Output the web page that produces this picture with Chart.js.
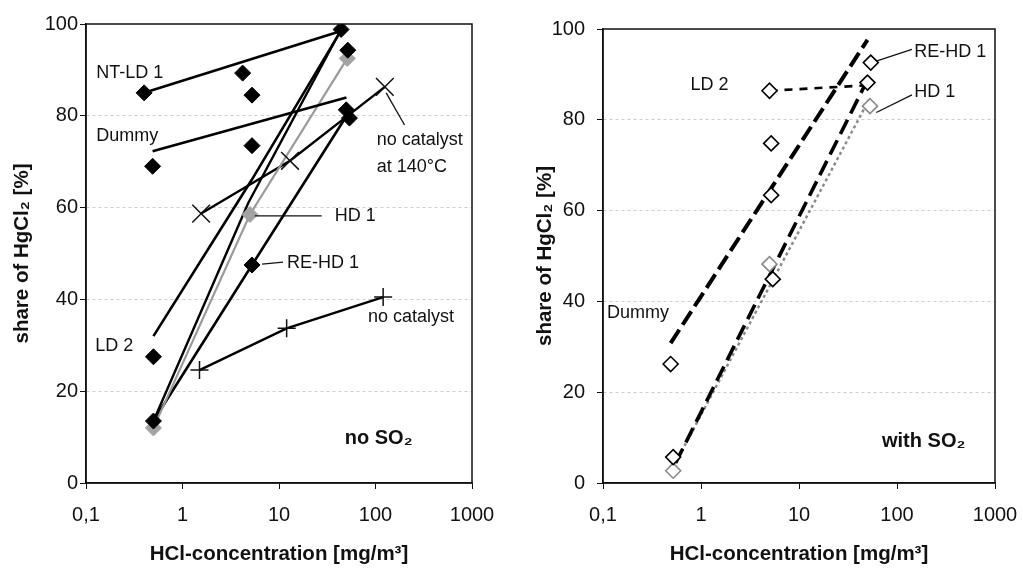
<!DOCTYPE html>
<html>
<head>
<meta charset="utf-8">
<title>share of HgCl2</title>
<script src="https://cdn.jsdelivr.net/npm/chart.js@4.4.0/dist/chart.umd.min.js"></script>
<style>
  html, body { margin: 0; padding: 0; background: #fff; overflow: hidden; }
  #wrap { position: relative; width: 1023px; height: 569px; }
  .panel { position: absolute; top: 0; height: 569px; }
  #left { left: 0; width: 500px; }
  #right { left: 500px; width: 523px; }
</style>
</head>
<body>
<div id="wrap">
  <div class="panel" id="left"><canvas id="chartLeft"></canvas></div>
  <div class="panel" id="right"><canvas id="chartRight"></canvas></div>
</div>
<script>
  const xTicks = [0.1, 1, 10, 100, 1000];
  const yTicks = [0, 20, 40, 60, 80, 100];

  // left panel (no SO2) - measured points [HCl mg/m3, share %]
  const ntLd1Pts = [[0.4, 85], [4.2, 89.3], [44, 98.8]];
  const dummyPts = [[0.49, 69], [5.25, 73.5], [5.25, 84.5]];
  const ld2Pts = [[0.5, 27.5], [51.6, 94.3]];
  const hd1Pts = [[0.5, 12], [5, 58.5], [51, 92.5]];
  const reHd1Pts = [[0.5, 13.5], [5.25, 47.5], [49.8, 81.3], [53.7, 79.5]];
  const noCat140Pts = [[1.56, 58.7], [13, 70.2], [125, 86.3]];
  const noCatPts = [[1.5, 24.6], [12, 33.7], [120, 40.5]];

  // left panel - trend lines
  const ntLd1Fit = [[0.4, 85], [44, 98.5]];
  const dummyFit = [[0.49, 72.3], [50, 84]];
  const ld2Fit = [[0.5, 32], [5.2, 66], [44, 98.6]];
  const hd1Fit = [[0.5, 12], [5, 58.5], [51, 92.5]];
  const hd1BlackFit = [[0.5, 13.5], [4.8, 61], [44, 98.8]];
  const reHd1Fit = [[0.5, 13.5], [5.25, 47.5], [52, 80.5]];

  // right panel (with SO2) - measured points
  const dummySo2Pts = [[0.49, 26.2], [5.2, 63.4], [5.2, 74.8]];
  const ld2So2Pts = [[5, 86.4], [50, 88.2]];
  const reHd1So2Pts = [[0.52, 5.7], [5.4, 44.9], [54, 92.6]];
  const hd1So2Pts = [[0.52, 2.7], [5, 48.2], [53, 83]];

  // right panel - trend lines
  const dummySo2Fit = [[0.49, 30.8], [50, 97.6]];
  const ld2So2Fit = [[5, 86.4], [50, 87.6]];
  const reHd1So2Fit = [[0.55, 4.4], [50, 88.8]];
  const hd1So2Fit = [[0.52, 3.5], [52, 84.5]];

  const FONT = '"Liberation Sans", Arial, Helvetica, sans-serif';
  const INK = '#111';
  Chart.defaults.font.family = FONT;
  Chart.defaults.color = INK;

  const toXY = arr => arr.map(([x, y]) => ({ x, y }));

  function marks(data, style, fill, stroke, radius, width) {
    return {
      data: toXY(data), showLine: false, order: 0,
      pointStyle: style, pointRadius: radius, pointHoverRadius: radius,
      backgroundColor: fill, borderColor: stroke, pointBorderWidth: width
    };
  }
  function fit(data, color, width, dash) {
    return {
      data: toXY(data), showLine: true, order: 1, pointRadius: 0,
      borderColor: color, borderWidth: width, borderDash: dash || [],
      fill: false, tension: 0
    };
  }

  // text labels and leader lines, placed in data coordinates
  const notes = {
    id: 'notes',
    afterDatasetsDraw(chart, args, opts) {
      const { ctx } = chart;
      const x = chart.scales.x, y = chart.scales.y;
      ctx.save();
      ctx.strokeStyle = INK;
      ctx.lineWidth = 1.3;
      (opts.leaders || []).forEach(l => {
        ctx.beginPath();
        ctx.moveTo(x.getPixelForValue(l[0]), y.getPixelForValue(l[1]));
        ctx.lineTo(x.getPixelForValue(l[2]), y.getPixelForValue(l[3]));
        ctx.stroke();
      });
      ctx.textBaseline = 'middle';
      ctx.fillStyle = INK;
      (opts.texts || []).forEach(t => {
        ctx.font = (t[3] ? 'bold 20px ' : '18px ') + FONT;
        ctx.fillText(t[0], x.getPixelForValue(t[1]), y.getPixelForValue(t[2]));
      });
      const a = chart.chartArea;
      ctx.lineWidth = 1.5;
      ctx.strokeRect(a.left, a.top, a.right - a.left, a.bottom - a.top);
      ctx.restore();
    }
  };

  function makeChart(id, datasets, cfg) {
    return new Chart(document.getElementById(id), {
      type: 'scatter',
      data: { datasets: datasets },
      options: {
        responsive: true,
        maintainAspectRatio: false,
        animation: false,
        layout: { padding: { left: 0, right: 28, top: cfg.top, bottom: 0 } },
        plugins: {
          legend: { display: false },
          tooltip: { enabled: false },
          notes: { texts: cfg.texts, leaders: cfg.leaders }
        },
        scales: {
          x: {
            type: 'logarithmic',
            min: 0.1, max: 1000,
            afterBuildTicks: s => { s.ticks = xTicks.map(v => ({ value: v })); },
            afterFit: s => { s.height = 86; s.paddingLeft = 0; s.paddingRight = 0; },
            ticks: {
              callback: v => v === 0.1 ? '0,1' : String(v),
              font: { size: 20 }, color: INK, padding: 14,
              autoSkip: false, maxRotation: 0
            },
            grid: { drawOnChartArea: false, drawTicks: true, tickLength: 6, tickColor: INK },
            border: { color: INK, width: 1.5 },
            title: {
              display: true, text: 'HCl-concentration [mg/m³]', color: INK,
              font: { size: 20.5, weight: 'bold', lineHeight: 1.2 },
              padding: { top: 0, bottom: 2 }
            }
          },
          y: {
            min: 0, max: 100,
            afterBuildTicks: s => { s.ticks = yTicks.map(v => ({ value: v })); },
            afterFit: s => { s.width = cfg.yWidth; },
            ticks: { font: { size: 20 }, color: INK, padding: cfg.yTickPad },
            grid: {
              color: c => (c.tick.value === 0 || c.tick.value === 100) ? 'rgba(0,0,0,0)' : '#cdcdcd',
              lineWidth: 1, tickLength: 6, tickColor: INK
            },
            border: { color: INK, width: 1.5, dash: [3, 3] },
            title: {
              display: true, text: 'share of HgCl₂ [%]', color: INK,
              font: { size: 20.5, weight: 'bold', lineHeight: 1.2 },
              padding: { top: cfg.yTitlePad, bottom: 0 }
            }
          }
        }
      },
      plugins: [notes]
    });
  }

  const black = '#000';
  const grey = '#a3a3a3';

  makeChart('chartLeft', [
    marks(ntLd1Pts, 'rectRot', black, black, 8, 1),
    marks(dummyPts, 'rectRot', black, black, 8, 1),
    marks(ld2Pts, 'rectRot', black, black, 8, 1),
    marks(reHd1Pts, 'rectRot', black, black, 8, 1),
    marks(hd1Pts, 'rectRot', grey, grey, 8, 1),
    marks(noCat140Pts, 'crossRot', black, INK, 12.5, 1.5),
    marks(noCatPts, 'cross', black, INK, 9, 1.5),
    fit(ntLd1Fit, black, 2.6),
    fit(dummyFit, black, 2.6),
    fit(ld2Fit, black, 2.6),
    fit(hd1BlackFit, black, 2.4),
    fit(hd1Fit, '#9a9a9a', 2.2),
    fit(reHd1Fit, black, 2.6),
    fit(noCat140Pts, black, 2.4),
    fit(noCatPts, black, 2.4)
  ], {
    top: 24, yWidth: 86, yTickPad: 2, yTitlePad: 10,
    texts: [
      ['NT-LD 1', 0.128, 89.3], ['Dummy', 0.128, 75.6],
      ['no catalyst', 103, 74.7], ['at 140°C', 103, 68.8],
      ['HD 1', 37.8, 58.2], ['RE-HD 1', 12.1, 47.9],
      ['LD 2', 0.125, 29.8], ['no catalyst', 83.5, 36.2],
      ['no SO₂', 48, 9.8, true]
    ],
    leaders: [[129, 85, 200, 78], [5.6, 58.2, 27.7, 58.2], [6.68, 47.7, 11, 48.1]]
  });

  makeChart('chartRight', [
    marks(dummySo2Pts, 'rectRot', '#fff', black, 7.5, 1.6),
    marks(ld2So2Pts, 'rectRot', '#fff', black, 7.5, 1.6),
    marks(reHd1So2Pts, 'rectRot', '#fff', black, 7.5, 1.6),
    marks(hd1So2Pts, 'rectRot', '#fff', '#8a8a8a', 7.5, 1.6),
    fit(dummySo2Fit, black, 4, [16, 6]),
    fit(ld2So2Fit, black, 2.6, [8, 7]),
    fit(reHd1So2Fit, black, 3.6, [16, 7]),
    fit(hd1So2Fit, '#8a8a8a', 2.5, [3, 3])
  ], {
    top: 29, yWidth: 103, yTickPad: 12, yTitlePad: 33,
    texts: [
      ['RE-HD 1', 150, 95], ['LD 2', 0.78, 87.7], ['HD 1', 150, 86.1],
      ['Dummy', 0.11, 37.4], ['with SO₂', 70.3, 9.1, true]
    ],
    leaders: [[62.5, 93, 142, 95.5], [61.5, 81.6, 142, 85.5]]
  });
</script>
</body>
</html>
